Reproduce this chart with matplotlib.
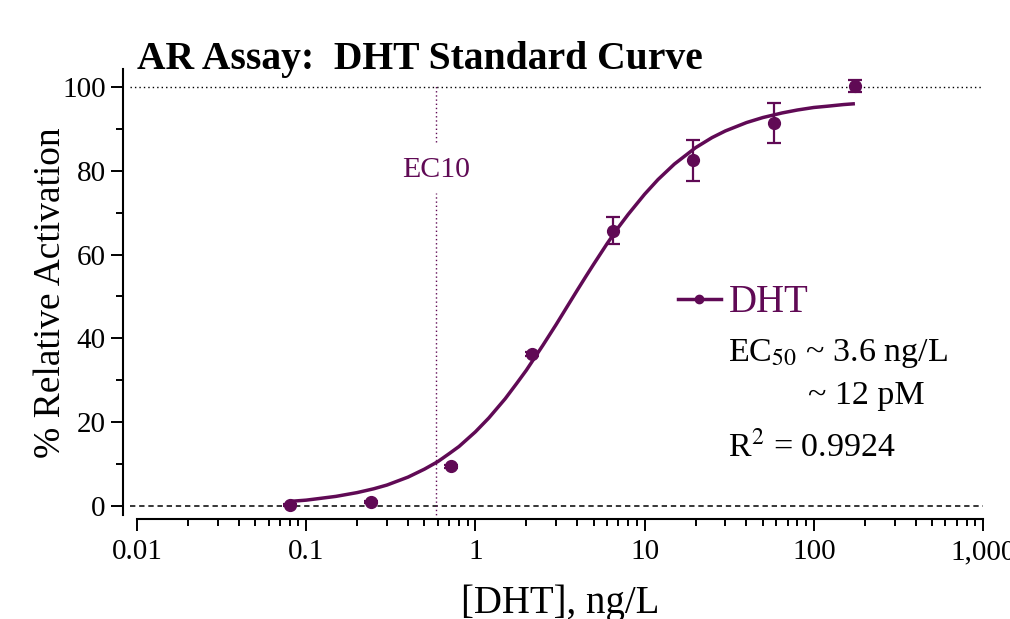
import numpy as np
import matplotlib
matplotlib.use("Agg")
import matplotlib.pyplot as plt
from matplotlib.ticker import LogLocator, FixedLocator, MultipleLocator, FixedFormatter, NullFormatter
from matplotlib.lines import Line2D

# DHT standard curve data (ng/L vs % relative activation)
dht_conc = [0.08, 0.24, 0.72, 2.16, 6.48, 19.4, 58.3, 175]
activation = [0.2, 0.9, 9.5, 36.3, 65.7, 82.5, 91.4, 100.2]
activation_err = [0.3, 0.3, 0.4, 0.5, 3.2, 4.85, 4.7, 1.5]

# fitted curve
curve_x = [0.08, 0.1, 0.12, 0.15, 0.2, 0.25, 0.3, 0.4, 0.5, 0.6, 0.7, 0.8, 1, 1.2,
           1.5, 1.75, 2, 2.5, 3, 3.5, 4, 4.5, 5, 6, 7, 8, 10, 12, 15, 20, 25, 30,
           40, 50, 65, 80, 100, 120, 150, 175]
curve_y = [1.1, 1.4, 1.8, 2.3, 3.2, 4.1, 5.0, 6.9, 8.8, 10.6, 12.5, 14.2, 17.7, 21.0,
           25.6, 29.2, 32.4, 38.3, 43.3, 47.7, 51.5, 54.8, 57.7, 62.6, 66.5, 69.6,
           74.4, 77.9, 81.6, 85.5, 87.9, 89.5, 91.5, 92.7, 93.8, 94.5, 95.1, 95.4,
           95.8, 96.0]

ec10 = 0.583
ec10_gap = [74.7, 86.9]
x_ticks = [0.01, 0.1, 1, 10, 100, 1000]
x_ticklabels = ["0.01", "0.1", "1", "10", "100", "1,000"]
y_ticks = [0, 20, 40, 60, 80, 100]

purple = "#600a55"

plt.rcParams["font.family"] = ["Liberation Serif", "DejaVu Serif"]
plt.rcParams["mathtext.fontset"] = "stix"

W, H = 1010, 619
fig = plt.figure(figsize=(W / 100, H / 100), dpi=100)
ax = fig.add_axes([137 / W, 1 - 519 / H, 846 / W, 453 / H])
ax.set_xscale("log")
ax.set_xlim(0.01, 1000)
ax.set_ylim(-3.1, 105)

# reference lines
ax.axhline(100, xmin=-0.008, xmax=1, color="black", lw=1, ls=(0, (1, 2.2)), clip_on=False)
ax.axhline(0, xmin=-0.008, xmax=1, color="black", lw=1.1, ls=(0, (3.5, 2.5)), clip_on=False)
ax.vlines(ec10, -3.1, ec10_gap[0], color=purple, lw=1, ls=(0, (1, 2)))
ax.vlines(ec10, ec10_gap[1], 100.2, color=purple, lw=1, ls=(0, (1, 2)))
ax.text(ec10, 80.3, "EC10", color=purple, fontsize=21.5, ha="center", va="center")

# curve + points
ax.plot(curve_x, curve_y, color=purple, lw=2.5, solid_capstyle="butt")
ax.errorbar(dht_conc, activation, yerr=activation_err, fmt="o", color=purple,
            markersize=8.5, elinewidth=1.6, capsize=5, capthick=1.6)

# spines
for s in ["top", "right"]:
    ax.spines[s].set_visible(False)
ax.spines["left"].set_position(("outward", 10))
ax.spines["left"].set_bounds(-2.1, 104.4)
ax.spines["left"].set_linewidth(1.5)
ax.spines["bottom"].set_linewidth(1.5)

ax.xaxis.set_major_locator(FixedLocator(x_ticks))
ax.xaxis.set_major_formatter(FixedFormatter(x_ticklabels))
ax.xaxis.set_minor_locator(LogLocator(base=10, subs=np.arange(2, 10)))
ax.xaxis.set_minor_formatter(NullFormatter())
ax.yaxis.set_major_locator(FixedLocator(y_ticks))
ax.yaxis.set_minor_locator(MultipleLocator(10))

ax.tick_params(which="major", length=8.6, width=1.4, labelsize=21, direction="out")
ax.tick_params(which="minor", length=4.8, width=1.4, direction="out")
ax.tick_params(axis="x", which="major", pad=6)
ax.tick_params(axis="y", which="major", pad=4)

ax.set_xlabel("[DHT], ng/L", fontsize=28, labelpad=14)
ax.set_ylabel("% Relative Activation", fontsize=27, labelpad=-4)

fig.text(137 / W, 1 - 69 / H, "AR Assay:  DHT Standard Curve", fontsize=28.5,
         fontweight="bold", ha="left", va="baseline")

# legend and fit statistics
handle = Line2D([], [], color=purple, lw=2.5, marker="o", markersize=6)
ax.legend([handle], ["DHT"], loc="center left", bbox_to_anchor=(678 / W, 1 - 303 / H),
          bbox_transform=fig.transFigure, frameon=False, fontsize=28, labelcolor=purple,
          handlelength=1.1, handletextpad=0.2, borderpad=0, borderaxespad=0)
fig.text(728 / W, 1 - 361 / H, "EC$_{50}$ ~ 3.6 ng/L", fontsize=24.5, va="baseline")
fig.text(808 / W, 1 - 404 / H, "~ 12 pM", fontsize=24.5, va="baseline")
fig.text(728 / W, 1 - 457 / H, "R$^2$ = 0.9924", fontsize=24.5, va="baseline")

fig.savefig("out.png", dpi=100)
